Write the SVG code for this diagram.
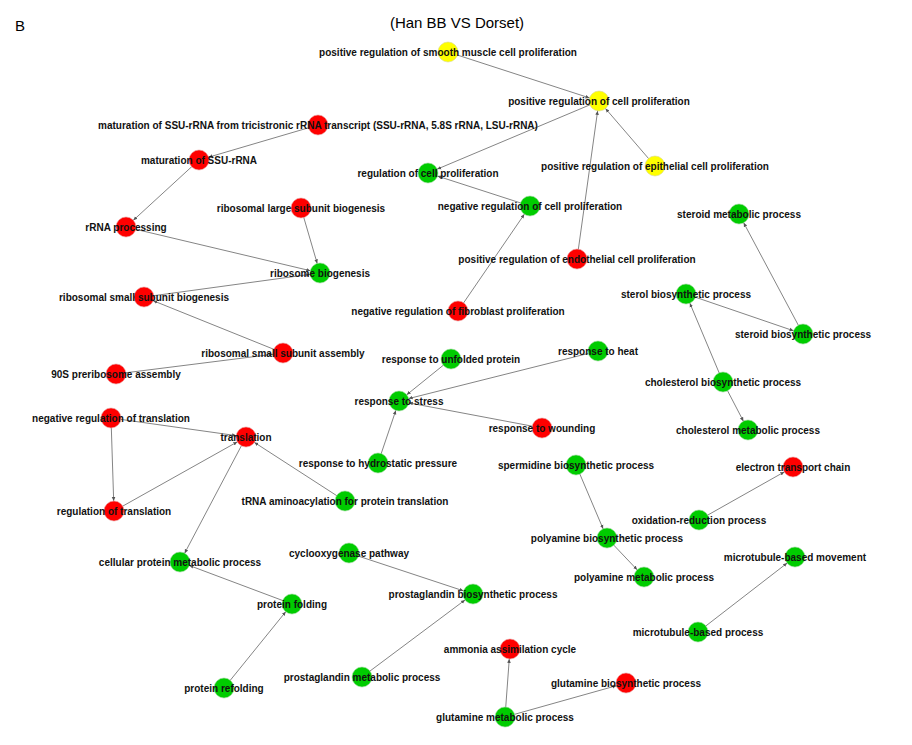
<svg xmlns="http://www.w3.org/2000/svg" width="912" height="745" viewBox="0 0 912 745">
<style>
.lbl{font-family:"Liberation Sans",Arial,sans-serif;font-weight:bold;font-size:10px;fill:#111;text-anchor:middle}
.ttl{font-family:"Liberation Sans",Arial,sans-serif;font-size:15px;fill:#000}
.e{stroke:#858585;stroke-width:1;fill:none;marker-end:url(#arr)}
.r{fill:#ff0000;stroke:#e8a0a0;stroke-width:0.6}
.g{fill:#00cc00;stroke:#9ad89a;stroke-width:0.6}
.y{fill:#ffff00;stroke:#d8d890;stroke-width:0.6}
</style>
<defs>
<marker id="arr" markerUnits="userSpaceOnUse" markerWidth="20" markerHeight="10" viewBox="0 -5 20 10" refX="14" refY="0" orient="auto">
<path d="M0,-1.8 L4,0 L0,1.8 z" fill="#555"/>
</marker>
</defs>
<rect width="912" height="745" fill="#fff"/>
<text class="ttl" x="15" y="31">B</text>
<text class="ttl" x="457" y="28" text-anchor="middle">(Han BB VS Dorset)</text>
<g id="connectors">
<line class="e" x1="448" y1="52" x2="599" y2="101"/>
<line class="e" x1="599" y1="101" x2="428" y2="173"/>
<line class="e" x1="655" y1="166" x2="599" y2="101"/>
<line class="e" x1="577" y1="259" x2="599" y2="101"/>
<line class="e" x1="530" y1="206" x2="428" y2="173"/>
<line class="e" x1="458" y1="311" x2="530" y2="206"/>
<line class="e" x1="318" y1="125" x2="199" y2="160"/>
<line class="e" x1="199" y1="160" x2="126" y2="227"/>
<line class="e" x1="126" y1="227" x2="320" y2="273"/>
<line class="e" x1="301" y1="208" x2="320" y2="273"/>
<line class="e" x1="144" y1="297" x2="320" y2="273"/>
<line class="e" x1="283" y1="353" x2="144" y2="297"/>
<line class="e" x1="116" y1="374" x2="283" y2="353"/>
<line class="e" x1="111" y1="418" x2="246" y2="437"/>
<line class="e" x1="111" y1="418" x2="114" y2="511"/>
<line class="e" x1="114" y1="511" x2="246" y2="437"/>
<line class="e" x1="345" y1="501" x2="246" y2="437"/>
<line class="e" x1="246" y1="437" x2="180" y2="562"/>
<line class="e" x1="292" y1="604" x2="180" y2="562"/>
<line class="e" x1="224" y1="688" x2="292" y2="604"/>
<line class="e" x1="451" y1="359" x2="399" y2="401"/>
<line class="e" x1="598" y1="351" x2="399" y2="401"/>
<line class="e" x1="542" y1="428" x2="399" y2="401"/>
<line class="e" x1="378" y1="463" x2="399" y2="401"/>
<line class="e" x1="803" y1="334" x2="739" y2="214"/>
<line class="e" x1="686" y1="294" x2="803" y2="334"/>
<line class="e" x1="723" y1="382" x2="686" y2="294"/>
<line class="e" x1="723" y1="382" x2="748" y2="430"/>
<line class="e" x1="576" y1="465" x2="607" y2="538"/>
<line class="e" x1="607" y1="538" x2="644" y2="577"/>
<line class="e" x1="699" y1="520" x2="793" y2="467"/>
<line class="e" x1="698" y1="632" x2="795" y2="557"/>
<line class="e" x1="349" y1="553" x2="473" y2="594"/>
<line class="e" x1="362" y1="677" x2="473" y2="594"/>
<line class="e" x1="505" y1="717" x2="510" y2="649"/>
<line class="e" x1="505" y1="717" x2="626" y2="683"/>
</g>
<g id="n_smooth"><circle class="y" cx="448" cy="52" r="10"/><text class="lbl" x="448" y="56">positive regulation of smooth muscle cell proliferation</text></g>
<g id="n_posreg"><circle class="y" cx="599" cy="101" r="10"/><text class="lbl" x="599" y="105">positive regulation of cell proliferation</text></g>
<g id="n_epith"><circle class="y" cx="655" cy="166" r="10"/><text class="lbl" x="655" y="170">positive regulation of epithelial cell proliferation</text></g>
<g id="n_regcell"><circle class="g" cx="428" cy="173" r="10"/><text class="lbl" x="428" y="177">regulation of cell proliferation</text></g>
<g id="n_negcell"><circle class="g" cx="530" cy="206" r="10"/><text class="lbl" x="530" y="210">negative regulation of cell proliferation</text></g>
<g id="n_endo"><circle class="r" cx="577" cy="259" r="10"/><text class="lbl" x="577" y="263">positive regulation of endothelial cell proliferation</text></g>
<g id="n_fibro"><circle class="r" cx="458" cy="311" r="10"/><text class="lbl" x="458" y="315">negative regulation of fibroblast proliferation</text></g>
<g id="n_matlong"><circle class="r" cx="318" cy="125" r="10"/><text class="lbl" x="318" y="129">maturation of SSU-rRNA from tricistronic rRNA transcript (SSU-rRNA, 5.8S rRNA, LSU-rRNA)</text></g>
<g id="n_matssu"><circle class="r" cx="199" cy="160" r="10"/><text class="lbl" x="199" y="164">maturation of SSU-rRNA</text></g>
<g id="n_rrna"><circle class="r" cx="126" cy="227" r="10"/><text class="lbl" x="126" y="231">rRNA processing</text></g>
<g id="n_large"><circle class="r" cx="301" cy="208" r="10"/><text class="lbl" x="301" y="212">ribosomal large subunit biogenesis</text></g>
<g id="n_ribo"><circle class="g" cx="320" cy="273" r="10"/><text class="lbl" x="320" y="277">ribosome biogenesis</text></g>
<g id="n_smallbio"><circle class="r" cx="144" cy="297" r="10"/><text class="lbl" x="144" y="301">ribosomal small subunit biogenesis</text></g>
<g id="n_smallasm"><circle class="r" cx="283" cy="353" r="10"/><text class="lbl" x="283" y="357">ribosomal small subunit assembly</text></g>
<g id="n_90s"><circle class="r" cx="116" cy="374" r="10"/><text class="lbl" x="116" y="378">90S preribosome assembly</text></g>
<g id="n_negtrans"><circle class="r" cx="111" cy="418" r="10"/><text class="lbl" x="111" y="422">negative regulation of translation</text></g>
<g id="n_trans"><circle class="r" cx="246" cy="437" r="10"/><text class="lbl" x="246" y="441">translation</text></g>
<g id="n_regtrans"><circle class="r" cx="114" cy="511" r="10"/><text class="lbl" x="114" y="515">regulation of translation</text></g>
<g id="n_trna"><circle class="g" cx="345" cy="501" r="10"/><text class="lbl" x="345" y="505">tRNA aminoacylation for protein translation</text></g>
<g id="n_cellprot"><circle class="g" cx="180" cy="562" r="10"/><text class="lbl" x="180" y="566">cellular protein metabolic process</text></g>
<g id="n_fold"><circle class="g" cx="292" cy="604" r="10"/><text class="lbl" x="292" y="608">protein folding</text></g>
<g id="n_refold"><circle class="g" cx="224" cy="688" r="10"/><text class="lbl" x="224" y="692">protein refolding</text></g>
<g id="n_unfold"><circle class="g" cx="451" cy="359" r="10"/><text class="lbl" x="451" y="363">response to unfolded protein</text></g>
<g id="n_stress"><circle class="g" cx="399" cy="401" r="10"/><text class="lbl" x="399" y="405">response to stress</text></g>
<g id="n_heat"><circle class="g" cx="598" cy="351" r="10"/><text class="lbl" x="598" y="355">response to heat</text></g>
<g id="n_wound"><circle class="r" cx="542" cy="428" r="10"/><text class="lbl" x="542" y="432">response to wounding</text></g>
<g id="n_hydro"><circle class="g" cx="378" cy="463" r="10"/><text class="lbl" x="378" y="467">response to hydrostatic pressure</text></g>
<g id="n_steroidmet"><circle class="g" cx="739" cy="214" r="10"/><text class="lbl" x="739" y="218">steroid metabolic process</text></g>
<g id="n_sterolbio"><circle class="g" cx="686" cy="294" r="10"/><text class="lbl" x="686" y="298">sterol biosynthetic process</text></g>
<g id="n_steroidbio"><circle class="g" cx="803" cy="334" r="10"/><text class="lbl" x="803" y="338">steroid biosynthetic process</text></g>
<g id="n_cholbio"><circle class="g" cx="723" cy="382" r="10"/><text class="lbl" x="723" y="386">cholesterol biosynthetic process</text></g>
<g id="n_cholmet"><circle class="g" cx="748" cy="430" r="10"/><text class="lbl" x="748" y="434">cholesterol metabolic process</text></g>
<g id="n_sperm"><circle class="g" cx="576" cy="465" r="10"/><text class="lbl" x="576" y="469">spermidine biosynthetic process</text></g>
<g id="n_polybio"><circle class="g" cx="607" cy="538" r="10"/><text class="lbl" x="607" y="542">polyamine biosynthetic process</text></g>
<g id="n_polymet"><circle class="g" cx="644" cy="577" r="10"/><text class="lbl" x="644" y="581">polyamine metabolic process</text></g>
<g id="n_etc"><circle class="r" cx="793" cy="467" r="10"/><text class="lbl" x="793" y="471">electron transport chain</text></g>
<g id="n_oxred"><circle class="g" cx="699" cy="520" r="10"/><text class="lbl" x="699" y="524">oxidation-reduction process</text></g>
<g id="n_mtmove"><circle class="g" cx="795" cy="557" r="10"/><text class="lbl" x="795" y="561">microtubule-based movement</text></g>
<g id="n_mtproc"><circle class="g" cx="698" cy="632" r="10"/><text class="lbl" x="698" y="636">microtubule-based process</text></g>
<g id="n_cox"><circle class="g" cx="349" cy="553" r="10"/><text class="lbl" x="349" y="557">cyclooxygenase pathway</text></g>
<g id="n_pgbio"><circle class="g" cx="473" cy="594" r="10"/><text class="lbl" x="473" y="598">prostaglandin biosynthetic process</text></g>
<g id="n_pgmet"><circle class="g" cx="362" cy="677" r="10"/><text class="lbl" x="362" y="681">prostaglandin metabolic process</text></g>
<g id="n_ammonia"><circle class="r" cx="510" cy="649" r="10"/><text class="lbl" x="510" y="653">ammonia assimilation cycle</text></g>
<g id="n_glnmet"><circle class="g" cx="505" cy="717" r="10"/><text class="lbl" x="505" y="721">glutamine metabolic process</text></g>
<g id="n_glnbio"><circle class="r" cx="626" cy="683" r="10"/><text class="lbl" x="626" y="687">glutamine biosynthetic process</text></g>
</svg>
